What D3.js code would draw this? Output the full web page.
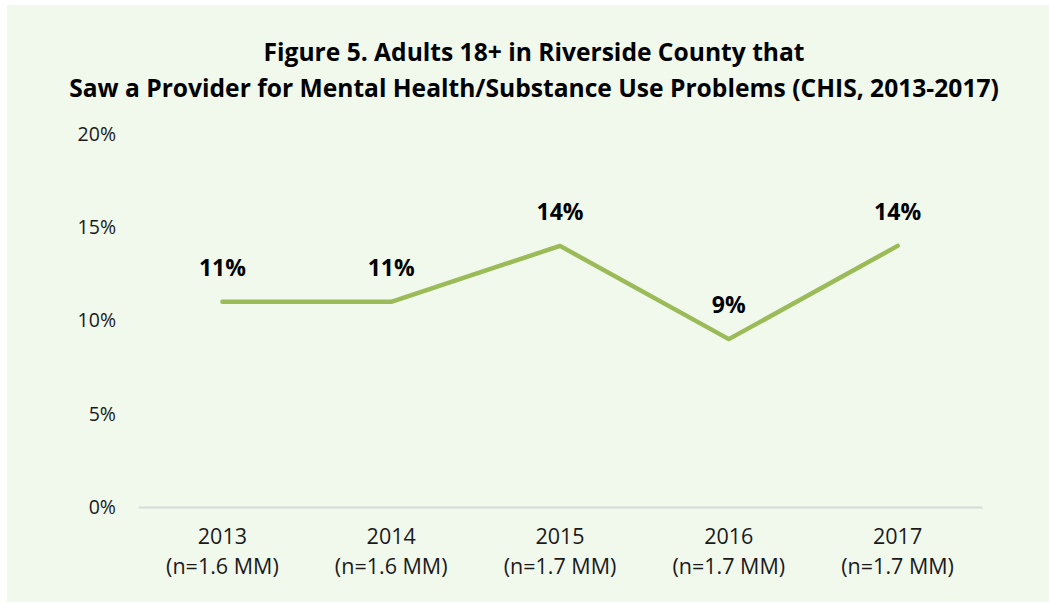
<!DOCTYPE html>
<html>
<head>
<meta charset="utf-8">
<script src="https://cdn.jsdelivr.net/npm/d3@7"></script>
<style>
  html, body { margin: 0; padding: 0; background: #ffffff; }
  svg { display: block; font-family: "Open Sans", sans-serif; }
</style>
</head>
<body>
<svg id="chart" width="1049" height="603"></svg>
<script>
// Chart data
const years = ["2013", "2014", "2015", "2016", "2017"];
const populations = ["(n=1.6 MM)", "(n=1.6 MM)", "(n=1.7 MM)", "(n=1.7 MM)", "(n=1.7 MM)"];
const percentSaw = [11, 11, 14, 9, 14];
const yTicks = [0, 5, 10, 15, 20];
const titleLines = [
  "Figure 5. Adults 18+ in Riverside County that",
  "Saw a Provider for Mental Health/Substance Use Problems (CHIS, 2013-2017)"
];

const W = 1049, H = 603;
const margin = { left: 138, right: 67, top: 134, bottom: 96 };
const svg = d3.select("#chart");

// Panel background
svg.append("rect")
  .attr("x", 7).attr("y", 5)
  .attr("width", W - 7).attr("height", H - 6)
  .attr("fill", "#f1f8ec");

// Title
svg.append("g").selectAll("text")
  .data(titleLines)
  .join("text")
  .attr("x", 534)
  .attr("y", (d, i) => 61 + i * 36)
  .attr("text-anchor", "middle")
  .attr("font-weight", "bold")
  .attr("font-size", 24.6)
  .attr("fill", "#000")
  .text(d => d);

const x = d3.scaleBand()
  .domain(years)
  .range([margin.left, W - margin.right]);

const y = d3.scaleLinear()
  .domain([0, 20])
  .range([H - margin.bottom, margin.top]);

// Y axis labels (no axis line, no gridlines)
const yAxis = d3.axisLeft(y)
  .tickValues(yTicks)
  .tickFormat(d => d + "%")
  .tickSize(0)
  .tickPadding(0);
const gy = svg.append("g")
  .attr("transform", `translate(116,0)`)
  .call(yAxis);
gy.select(".domain").remove();
gy.selectAll("text")
  .attr("font-family", "'Open Sans', sans-serif")
  .attr("font-size", 19.5)
  .attr("fill", "#1a1a1a");

// X axis baseline
const xAxis = d3.axisBottom(x).tickSize(0).tickFormat("");
const gx = svg.append("g")
  .attr("transform", `translate(0,${y(0)})`)
  .call(xAxis);
gx.select(".domain").attr("stroke", "#d9d9d9").attr("stroke-width", 2);

// Category labels (two lines each)
const cat = svg.append("g").selectAll("text")
  .data(years)
  .join("text")
  .attr("text-anchor", "middle")
  .attr("font-size", 21.5)
  .attr("fill", "#1a1a1a")
  .attr("transform", d => `translate(${x(d) + x.bandwidth() / 2},0)`);
cat.append("tspan").attr("x", 0).attr("y", 544).text(d => d);
cat.append("tspan").attr("x", 0).attr("y", 574).text((d, i) => populations[i]);

// Line
const line = d3.line()
  .x((d, i) => x(years[i]) + x.bandwidth() / 2)
  .y(d => y(d));
svg.append("path")
  .datum(percentSaw)
  .attr("d", line)
  .attr("fill", "none")
  .attr("stroke", "#9bbb59")
  .attr("stroke-width", 4.5)
  .attr("stroke-linecap", "round")
  .attr("stroke-linejoin", "round");

// Value labels
svg.append("g").selectAll("text")
  .data(percentSaw)
  .join("text")
  .attr("x", (d, i) => x(years[i]) + x.bandwidth() / 2)
  .attr("y", d => y(d) - 26)
  .attr("text-anchor", "middle")
  .attr("font-weight", "bold")
  .attr("font-size", 23)
  .attr("fill", "#000")
  .text(d => d + "%");
</script>
</body>
</html>
